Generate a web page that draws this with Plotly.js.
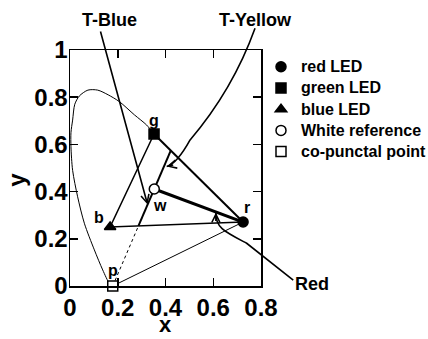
<!DOCTYPE html>
<html>
<head>
<meta charset="utf-8">
<script src="https://cdn.plot.ly/plotly-3.0.1.min.js"></script>
<style>
  html, body { margin: 0; padding: 0; background: #fff; }
  #chart { width: 428px; height: 339px; }
</style>
</head>
<body>
<div id="chart"></div>
<script>
// chromaticity points (CIE x, y)
const redX = [0.725];
const redY = [0.271];
const greenX = [0.352];
const greenY = [0.644];
const blueX = [0.168];
const blueY = [0.25];
const whiteX = [0.353];
const whiteY = [0.411];
const copunctalX = [0.179];
const copunctalY = [0.0];

// spectral locus as drawn (from the violet end up to the green LED)
const locusX = [0.179, 0.165, 0.137, 0.102, 0.06, 0.032, 0.011, 0.004, 0.004, 0.011, 0.02, 0.039, 0.075, 0.116, 0.16, 0.207, 0.27, 0.321, 0.352];
const locusY = [0.0, 0.011, 0.068, 0.153, 0.266, 0.378, 0.49, 0.59, 0.65, 0.703, 0.77, 0.805, 0.83, 0.83, 0.81, 0.781, 0.725, 0.682, 0.644];

const legendNames = ["red LED", "green LED", "blue LED", "White reference", "co-punctal point"];
const pointLabels = ["r", "g", "b", "w", "p"];
const xTicks = [0, 0.2, 0.4, 0.6, 0.8];
const yTicks = [0, 0.2, 0.4, 0.6, 0.8, 1];
const xRange = [0, 0.8];
const yRange = [0, 1];

// callout arrows (data units, tails sit outside the frame)
const tBlueTail = [0.126, 1.085];
const tBlueHead = [0.325, 0.345];
const tYellowPath = [[0.775, 1.092], [0.682, 0.831], [0.503, 0.619], [0.447, 0.517], [0.405, 0.506]];
const redPath = [[0.935, 0.025], [0.74, 0.181], [0.649, 0.229], [0.609, 0.246], [0.611, 0.311]];

const FONT = "Liberation Sans, Arial, Helvetica, sans-serif";

// intersection of line a1-a2 with line b1-b2
const intersect = (a1, a2, b1, b2) => {
  const d = (a1[0] - a2[0]) * (b1[1] - b2[1]) - (a1[1] - a2[1]) * (b1[0] - b2[0]);
  const u = a1[0] * a2[1] - a1[1] * a2[0];
  const v = b1[0] * b2[1] - b1[1] * b2[0];
  return [
    (u * (b1[0] - b2[0]) - (a1[0] - a2[0]) * v) / d,
    (u * (b1[1] - b2[1]) - (a1[1] - a2[1]) * v) / d,
  ];
};

const toPaper = (pt) => [pt[0] / xRange[1], pt[1] / yRange[1]];

const r = [redX[0], redY[0]];
const g = [greenX[0], greenY[0]];
const b = [blueX[0], blueY[0]];
const w = [whiteX[0], whiteY[0]];
const p = [copunctalX[0], copunctalY[0]];
const lowCross = intersect(p, w, b, r);
const highCross = intersect(p, w, g, r);

const line = (pts, width, dash) => ({
  x: pts.map((q) => q[0]),
  y: pts.map((q) => q[1]),
  mode: "lines",
  type: "scatter",
  showlegend: false,
  hoverinfo: "skip",
  line: { color: "black", width: width, dash: dash || "solid" },
});

const marker = (xs, ys, name, symbol, fill) => ({
  x: xs,
  y: ys,
  name: '<span style="font-size:16px">' + name + "</span>",
  mode: "markers",
  type: "scatter",
  cliponaxis: false,
  marker: {
    symbol: symbol,
    size: 10,
    color: fill,
    line: { color: "black", width: 1.5 },
  },
});

const locus = {
  x: locusX,
  y: locusY,
  mode: "lines",
  type: "scatter",
  showlegend: false,
  hoverinfo: "skip",
  line: { color: "black", width: 1, shape: "spline", smoothing: 0.8 },
};

const chartData = [
  locus,
  line([p, r], 1),
  line([g, b, r], 1.5),
  line([g, r], 2),
  line([w, r], 3),
  line([p, lowCross], 1, "dot"),
  line([lowCross, highCross], 2),
  marker(redX, redY, legendNames[0], "circle", "black"),
  marker(greenX, greenY, legendNames[1], "square", "black"),
  marker(blueX, blueY, legendNames[2], "triangle-up", "black"),
  marker(whiteX, whiteY, legendNames[3], "circle", "white"),
  marker(copunctalX, copunctalY, legendNames[4], "square", "white"),
];

const curvePath = (pts) => {
  const q = pts.map(toPaper);
  return "M" + q[0].join(",") +
    " Q" + q[1].join(",") + " " + q[2].join(",") +
    " Q" + q[3].join(",") + " " + q[4].join(",");
};

const redCurve = () => {
  const q = redPath.map(toPaper);
  return "M" + q[0].join(",") + " L" + q[1].join(",") +
    " C" + q[2].join(",") + " " + q[3].join(",") + " " + q[4].join(",");
};

const pointLabel = (pt, text, dx, dy) => ({
  x: pt[0],
  y: pt[1],
  xref: "x",
  yref: "y",
  text: text,
  showarrow: false,
  xshift: dx,
  yshift: dy,
  font: { size: 16 },
});

// free text placed in data units outside the frame
const callout = (pt, text, size, angle) => {
  const q = toPaper(pt);
  return {
    x: q[0],
    y: q[1],
    xref: "paper",
    yref: "paper",
    xanchor: "center",
    yanchor: "middle",
    text: text,
    textangle: angle || 0,
    showarrow: false,
    font: { size: size },
  };
};

const head = (pt, ax, ay) => ({
  x: pt[0],
  y: pt[1],
  xref: "x",
  yref: "y",
  text: "",
  showarrow: true,
  ax: ax,
  ay: ay,
  arrowhead: 5,
  arrowsize: 1,
  arrowwidth: 1.6,
  arrowcolor: "black",
});

const annotations = [
  pointLabel(r, pointLabels[0], 4, 15),
  pointLabel(g, pointLabels[1], 0, 14),
  pointLabel(b, pointLabels[2], -11, 10),
  pointLabel(w, pointLabels[3], 6, -16),
  pointLabel(p, pointLabels[4], 0, 16),
  callout([0.1675, 1.127], "T-Blue", 18),
  callout([0.778, 1.127], "T-Yellow", 18),
  callout([1.0136, 0.008], "Red", 18),
  // axis titles
  callout([0.4, -0.165], "x", 22),
  callout([-0.222, 0.45], "y", 24, -90),
  {
    x: tBlueHead[0],
    y: tBlueHead[1],
    xref: "x",
    yref: "y",
    axref: "x",
    ayref: "y",
    ax: tBlueTail[0],
    ay: tBlueTail[1],
    text: "",
    showarrow: true,
    arrowhead: 5,
    arrowsize: 1,
    arrowwidth: 1.6,
    arrowcolor: "black",
  },
  head(tYellowPath[4], 8, -2),
  head(redPath[4], 0, 10),
];

const shapes = [
  { type: "path", xref: "paper", yref: "paper", path: curvePath(tYellowPath), line: { color: "black", width: 1.6 } },
  { type: "path", xref: "paper", yref: "paper", path: redCurve(), line: { color: "black", width: 1.6 } },
];

const axis = (range, ticks, standoff) => ({
  range: range,
  tickvals: ticks,
  ticks: "inside",
  ticklen: 8,
  tickwidth: 1.5,
  tickcolor: "black",
  showline: true,
  linewidth: 1.5,
  linecolor: "black",
  mirror: "ticks",
  showgrid: false,
  zeroline: false,
  automargin: false,
  ticklabelstandoff: standoff,
  tickfont: { size: 24 },
});

Plotly.newPlot("chart", chartData, {
  width: 428,
  height: 339,
  margin: { l: 70, r: 167, t: 50, b: 53, autoexpand: false },
  paper_bgcolor: "white",
  plot_bgcolor: "white",
  font: { family: FONT, color: "black", weight: "bold" },
  xaxis: axis(xRange, xTicks, 0),
  yaxis: axis(yRange, yTicks, -4),
  showlegend: true,
  legend: {
    x: 1.0,
    y: 0.995,
    xanchor: "left",
    yanchor: "top",
    font: { size: 14, weight: "bold" },
    bgcolor: "rgba(0,0,0,0)",
  },
  annotations: annotations,
  shapes: shapes,
}, { staticPlot: true });
</script>
</body>
</html>
